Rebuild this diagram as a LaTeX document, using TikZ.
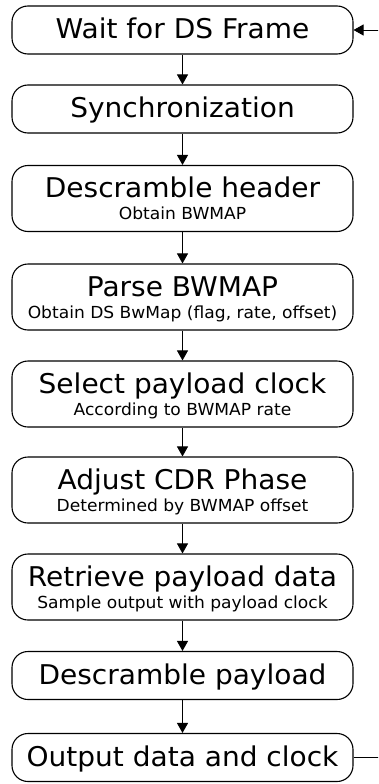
\documentclass[tikz,border=0pt]{standalone}
\usepackage{fontspec}
\setmainfont{DejaVu Sans}
\newfontfamily\boxfont[FakeStretch=1.03]{DejaVu Sans}
\usetikzlibrary{arrows.meta}

\tikzset{
  stepbox/.style={draw=black, line width=1.1pt, rounded corners=16pt,
    minimum width=341pt, inner sep=0pt, fill=white},
  single/.style={stepbox, minimum height=48pt},
  double/.style={stepbox, minimum height=66pt},
  title/.style={anchor=base, inner sep=0pt, font=\boxfont\fontsize{27.2}{30}\selectfont},
  sub/.style={anchor=base, inner sep=0pt, font=\boxfont\fontsize{16.6}{19}\selectfont},
  flow/.style={draw=black, line width=0.9pt, -{Triangle[width=11pt,length=10pt]}},
}

\begin{document}
\begin{tikzpicture}[x=1pt, y=-1pt]
  \useasboundingbox (0,0) rectangle (378,784);
  \clip (0,0) rectangle (378,784);

  % single-line steps: title only
  \node[single] (wait) at (182.5,30) {};
  \node[title] (waitT) at ([yshift=-9pt]wait.center) {Wait for DS Frame};

  \node[single] (sync) at (182.5,109) {};
  \node[title] (syncT) at ([yshift=-8.5pt]sync.center) {Synchronization};

  % two-line steps: title and a short note
  \node[double] (hdr) at (182.5,198.5) {};
  \node[title] (hdrT) at ([yshift=1pt]hdr.center) {Descramble header};
  \node[sub] (hdrS) at ([yshift=-21pt]hdr.center) {Obtain BWMAP};

  \node[double] (parse) at (182.5,297) {};
  \node[title] (parseT) at ([yshift=1pt]parse.center) {Parse BWMAP};
  \node[sub] (parseS) at ([yshift=-21pt]parse.center) {Obtain DS BwMap (flag, rate, offset)};

  \node[double] (clk) at (182.5,394) {};
  \node[title] (clkT) at ([yshift=1pt]clk.center) {Select payload clock};
  \node[sub] (clkS) at ([yshift=-21pt]clk.center) {According to BWMAP rate};

  \node[double] (cdr) at (182.5,490) {};
  \node[title] (cdrT) at ([yshift=1pt]cdr.center) {Adjust CDR Phase};
  \node[sub] (cdrS) at ([yshift=-21pt]cdr.center) {Determined by BWMAP offset};

  \node[double] (ret) at (182.5,587) {};
  \node[title] (retT) at ([yshift=1pt]ret.center) {Retrieve payload data};
  \node[sub] (retS) at ([yshift=-21pt]ret.center) {Sample output with payload clock};

  \node[single] (desc) at (182.5,675.5) {};
  \node[title] (descT) at ([yshift=-8.5pt]desc.center) {Descramble payload};

  \node[single] (out) at (182.5,757.5) {};
  \node[title] (outT) at ([yshift=-8.5pt]out.center) {Output data and clock};

  % forward flow
  \draw[flow] (wait) -- (sync);
  \draw[flow] (sync) -- (hdr);
  \draw[flow] (hdr) -- (parse);
  \draw[flow] (parse) -- (clk);
  \draw[flow] (clk) -- (cdr);
  \draw[flow] (cdr) -- (ret);
  \draw[flow] (ret) -- (desc);
  \draw[flow] (desc) -- (out);

  % loop back to the first step, running outside the right edge
  \coordinate (loopx) at (400,0);
  \draw[flow] (out.east) -- (out.east -| loopx) |- (wait.east);
\end{tikzpicture}
\end{document}
